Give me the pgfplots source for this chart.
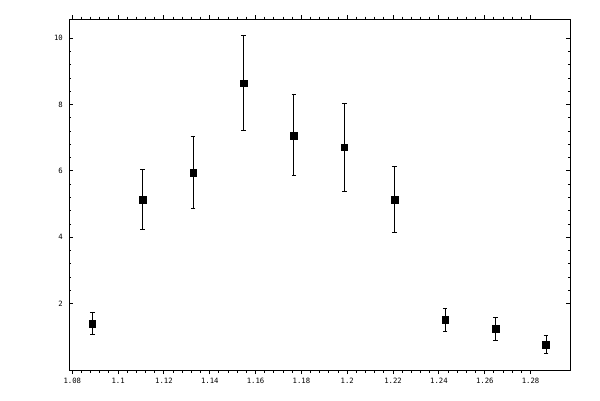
\documentclass[border=0pt]{standalone}
\usepackage{pgfplots}
\pgfplotsset{compat=1.18}
\usepackage{fontspec}
\setmonofont{DejaVu Sans Mono}
\begin{document}
\begin{tikzpicture}[x=1bp,y=1bp]
\path[use as bounding box] (0,0) rectangle (600,400);
\pgfplotsset{
  common/.style={
    at={(69.3bp,30bp)}, anchor=south west,
    scale only axis, width=500.7bp, height=350.7bp,
    xmin=1.0787, xmax=1.2972, ymin=0, ymax=10.57,
    axis line style={line width=0.9pt},
    tick style={line width=0.9pt, black},
    minor tick num=4,
    ticklabel style={font=\ttfamily\fontsize{7.3}{8}\selectfont},
    /pgf/number format/assume math mode=true,
  }
}
\begin{axis}[common,
  tick align=outside,
  xtick={1.08,1.1,1.12,1.14,1.16,1.18,1.2,1.22,1.24,1.26,1.28},
  xticklabels={1.08,1.1,1.12,1.14,1.16,1.18,1.2,1.22,1.24,1.26,1.28},
  ytick=\empty, minor ytick={},
  major tick length=4bp, minor tick length=2.6bp,
  xticklabel style={yshift=-1bp},
]
\addplot[only marks, mark=square*, mark size=3.3bp, black,
  error bars/.cd, y dir=both, y explicit,
  error bar style={line width=0.9pt, black},
  error mark options={rotate=90, mark size=2.3bp, line width=0.9pt, black}]
  table[x=x, y=y, y error=e] {
  x y e
  1.0887 1.40 0.33
  1.1107 5.14 0.905
  1.1327 5.955 1.09
  1.1547 8.64 1.43
  1.1767 7.07 1.22
  1.1987 6.71 1.33
  1.2207 5.14 0.98
  1.2427 1.52 0.35
  1.2647 1.245 0.35
  1.2867 0.762 0.27
  };
\end{axis}
\begin{axis}[common,
  tick align=inside,
  xtick=\empty, minor xtick={},
  ytick={2,4,6,8,10},
  major tick length=4bp, minor tick length=2bp,
  yticklabel style={xshift=-3bp},
]
\end{axis}
\end{tikzpicture}
\end{document}
